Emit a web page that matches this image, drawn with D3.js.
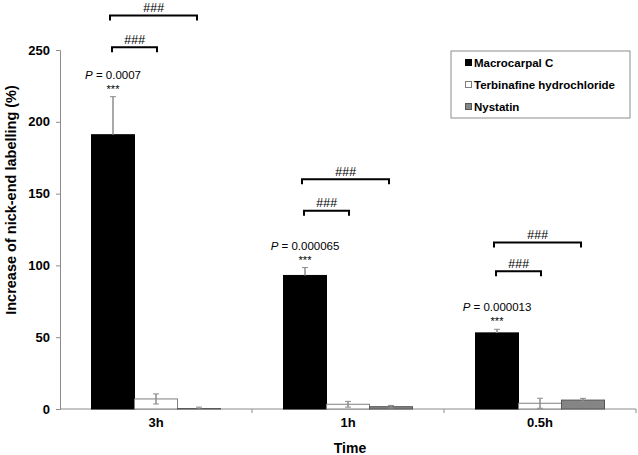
<!DOCTYPE html>
<html>
<head>
<meta charset="utf-8">
<script src="https://cdn.jsdelivr.net/npm/d3@7"></script>
<style>
  body { margin: 0; background: #fff; }
  svg { display: block; font-family: "Liberation Sans", Arial, sans-serif; }
</style>
</head>
<body>
<svg id="chart" width="638" height="455"></svg>
<script>
// ---- data ----
const categories = ["3h", "1h", "0.5h"];
const seriesNames = ["Macrocarpal C", "Terbinafine hydrochloride", "Nystatin"];
const macrocarpalC = [191, 93, 53];
const macrocarpalCErr = [26.5, 5.5, 2.5];
const terbinafine = [7, 3.3, 4];
const terbinafineErr = [3.5, 2, 3.5];
const nystatin = [0.3, 1.6, 6.2];
const nystatinErr = [1, 0.9, 1.2];
const pValues = ["0.0007", "0.000065", "0.000013"];
// significance bracket levels (in axis units)
const bracketNear = [252, 138, 96];   // Macrocarpal C vs Terbinafine
const bracketFar = [274, 160, 116];   // Macrocarpal C vs Nystatin
const yTicks = [0, 50, 100, 150, 200, 250];

const values = [macrocarpalC, terbinafine, nystatin];
const errors = [macrocarpalCErr, terbinafineErr, nystatinErr];
const fills = ["#000000", "#ffffff", "#858585"];
const strokes = ["#000000", "#7f7f7f", "#555555"];

const svg = d3.select("#chart");

const x = d3.scaleBand().domain(categories).range([60, 636]).padding(0);
const xs = d3.scaleBand().domain(seriesNames)
  .range([31.5, x.bandwidth() - 31.5]).padding(0);
const y = d3.scaleLinear().domain([0, 250]).range([409, 50]);

const axisColor = "#8c8c8c";

// y axis
const yAxis = svg.append("g").attr("transform", "translate(60,0)")
  .call(d3.axisLeft(y).tickValues(yTicks).tickSize(4).tickPadding(6));
yAxis.select(".domain").attr("stroke", axisColor);
yAxis.selectAll(".tick line").attr("stroke", axisColor);
yAxis.selectAll(".tick text").attr("font-size", 13).attr("font-weight", "bold")
  .attr("fill", "#000").attr("font-family", "Liberation Sans, Arial, sans-serif");

// x axis
const xAxis = svg.append("g").attr("transform", "translate(0,409)")
  .call(d3.axisBottom(x).tickSize(0).tickPadding(9));
xAxis.select(".domain").attr("stroke", axisColor).attr("d", "M60,0H636");
xAxis.selectAll(".tick text").attr("font-size", 13).attr("font-weight", "bold")
  .attr("fill", "#000").attr("font-family", "Liberation Sans, Arial, sans-serif");
// category boundary ticks
const bounds = categories.map(c => x(c) + x.bandwidth());
svg.append("g").selectAll("line").data(bounds).join("line")
  .attr("x1", d => d).attr("x2", d => d).attr("y1", 409).attr("y2", 413)
  .attr("stroke", axisColor);

// axis titles
svg.append("text").attr("x", 350).attr("y", 453)
  .attr("text-anchor", "middle").attr("font-size", 14).attr("font-weight", "bold")
  .text("Time");
svg.append("text").attr("transform", "translate(16,200) rotate(-90)")
  .attr("text-anchor", "middle").attr("font-size", 14.5).attr("font-weight", "bold")
  .text("Increase of nick-end labelling (%)");

// bars
seriesNames.forEach((s, si) => {
  const g = svg.append("g");
  g.selectAll("rect").data(categories).join("rect")
    .attr("x", c => x(c) + xs(s))
    .attr("y", (c, i) => y(values[si][i]))
    .attr("width", xs.bandwidth())
    .attr("height", (c, i) => y(0) - y(values[si][i]))
    .attr("fill", fills[si])
    .attr("stroke", strokes[si])
    .attr("stroke-width", 1);
  // error bars
  categories.forEach((c, i) => {
    const cx = x(c) + xs(s) + xs.bandwidth() / 2;
    const top = y(values[si][i] + errors[si][i]);
    const bot = si === 0 ? y(values[si][i]) : y(Math.max(0, values[si][i] - errors[si][i]));
    g.append("line").attr("x1", cx).attr("x2", cx).attr("y1", top).attr("y2", bot)
      .attr("stroke", "#8c8c8c").attr("stroke-width", 1.5);
    g.append("line").attr("x1", cx - 3).attr("x2", cx + 3).attr("y1", top).attr("y2", top)
      .attr("stroke", "#8c8c8c").attr("stroke-width", 1);
    if (si !== 0) {
      g.append("line").attr("x1", cx - 3).attr("x2", cx + 3).attr("y1", bot).attr("y2", bot)
        .attr("stroke", "#8c8c8c").attr("stroke-width", 1);
    }
  });
});

// annotations
categories.forEach((c, i) => {
  const cx = k => x(c) + xs(seriesNames[k]) + xs.bandwidth() / 2;
  const errTop = y(macrocarpalC[i] + macrocarpalCErr[i]);
  const t = svg.append("text").attr("x", cx(0)).attr("y", errTop - 18)
    .attr("text-anchor", "middle").attr("font-size", 11.5);
  t.append("tspan").attr("font-style", "italic").text("P");
  t.append("tspan").text(" = " + pValues[i]);
  svg.append("text").attr("x", cx(0)).attr("y", errTop - 4)
    .attr("text-anchor", "middle").attr("font-size", 11).text("***");

  const brackets = [
    { x1: cx(0) - 1, x2: cx(1) + 1, yy: y(bracketNear[i]) },
    { x1: cx(0) - 3, x2: cx(2) - 2, yy: y(bracketFar[i]) }
  ];
  brackets.forEach(b => {
    svg.append("path")
      .attr("d", `M${b.x1},${b.yy + 5}V${b.yy}H${b.x2}V${b.yy + 5}`)
      .attr("fill", "none").attr("stroke", "#000").attr("stroke-width", 2);
    svg.append("text").attr("x", (b.x1 + b.x2) / 2).attr("y", b.yy - 3.5)
      .attr("text-anchor", "middle").attr("font-size", 12.5).attr("font-style", "italic")
      .text("###");
  });
});

// legend
const lg = svg.append("g");
lg.append("rect").attr("x", 451).attr("y", 51).attr("width", 179).attr("height", 67)
  .attr("fill", "#fff").attr("stroke", "#8c8c8c").attr("stroke-width", 1);
seriesNames.forEach((s, si) => {
  const yy = 63 + si * 22;
  lg.append("rect").attr("x", 465.5).attr("y", yy - 3.5).attr("width", 6).attr("height", 6)
    .attr("fill", fills[si]).attr("stroke", strokes[si]).attr("stroke-width", 1);
  lg.append("text").attr("x", 474).attr("y", yy + 4).attr("font-size", 11.5)
    .attr("font-weight", "bold").text(s);
});
</script>
</body>
</html>
